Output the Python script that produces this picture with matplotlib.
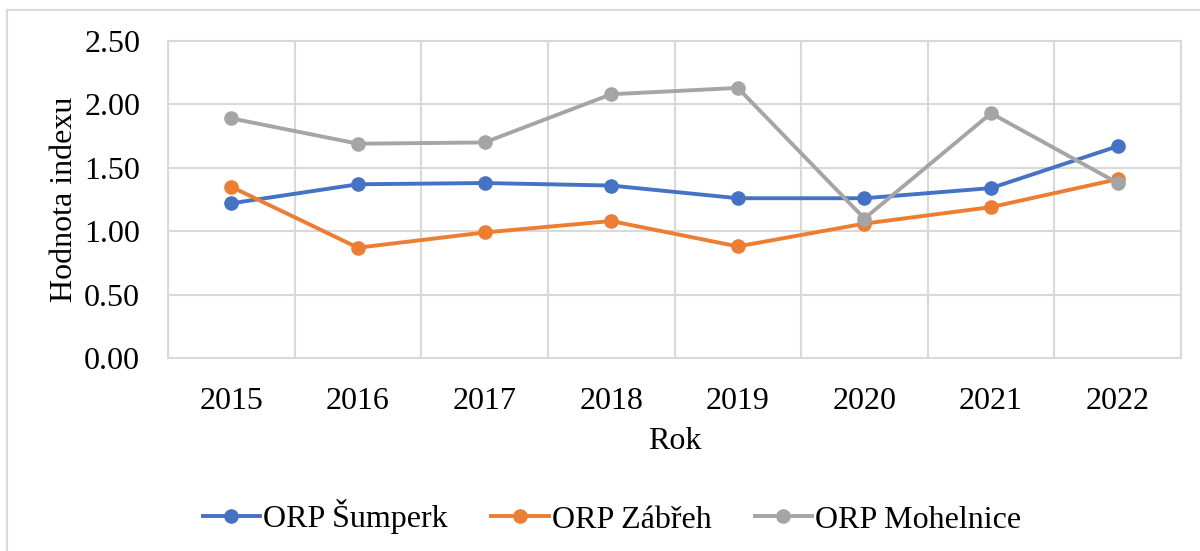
import matplotlib.pyplot as plt
from matplotlib.lines import Line2D
import numpy as np

years = ["2015", "2016", "2017", "2018", "2019", "2020", "2021", "2022"]
sumperk = [1.22, 1.37, 1.38, 1.36, 1.26, 1.26, 1.34, 1.67]
zabreh = [1.35, 0.87, 0.99, 1.08, 0.88, 1.06, 1.19, 1.41]
mohelnice = [1.89, 1.69, 1.70, 2.08, 2.13, 1.10, 1.93, 1.38]

series = [
    ("ORP Šumperk", sumperk, "#4472C4"),
    ("ORP Zábřeh", zabreh, "#ED7D31"),
    ("ORP Mohelnice", mohelnice, "#A5A5A5"),
]

plt.rcParams['font.family'] = ['Liberation Serif', 'DejaVu Serif']
FS = 23

fig = plt.figure(figsize=(12, 5.51), dpi=100)
ax = fig.add_axes([168 / 1200, 1 - 358 / 551, (1181 - 168) / 1200, (358 - 41) / 551])

x = np.arange(len(years))
for name, vals, col in series:
    ax.plot(x, vals, color=col, linewidth=2.8, marker='o', markersize=9.5, label=name,
            solid_capstyle='round')

ax.set_xlim(-0.5, len(years) - 0.5)
ax.set_ylim(0, 2.5)
ax.set_yticks(np.arange(0, 2.51, 0.5))
ax.set_yticklabels([f"{v:.2f}" for v in np.arange(0, 2.51, 0.5)])
ax.set_xticks(x)
ax.set_xticklabels(years)
ax.set_xticks(np.arange(-0.5, len(years), 1), minor=True)
ax.tick_params(axis='both', which='both', length=0, labelsize=FS)
ax.tick_params(axis='y', which='major', pad=20)
ax.tick_params(axis='x', which='major', pad=21)
ax.grid(True, which='minor', axis='x', color='#D9D9D9', linewidth=1.5)
ax.grid(True, which='major', axis='y', color='#D9D9D9', linewidth=1.5)
for s in ax.spines.values():
    s.set_color('#D9D9D9')
    s.set_linewidth(1.5)

ax.set_xlabel("Rok", fontsize=FS, labelpad=8)
ax.set_ylabel("Hodnota indexu", fontsize=FS, labelpad=4)

handles = [Line2D([0], [0], color=c, linewidth=2.8, marker='o', markersize=9.5) for _, _, c in series]
fig.legend(handles, [n for n, _, _ in series], loc='center', bbox_to_anchor=(0.51, 1 - 517 / 551),
           ncol=3, frameon=False, fontsize=FS, handlelength=1.8, handletextpad=0.1,
           columnspacing=1.35)

# outer chart border (top and left only visible)
fig.add_artist(Line2D([7 / 1200, 7 / 1200], [0, 1 - 10 / 551], color='#D9D9D9', linewidth=1.5,
                      transform=fig.transFigure))
fig.add_artist(Line2D([7 / 1200, 1], [1 - 10 / 551, 1 - 10 / 551], color='#D9D9D9', linewidth=1.5,
                      transform=fig.transFigure))

fig.savefig("out.png", dpi=100)
